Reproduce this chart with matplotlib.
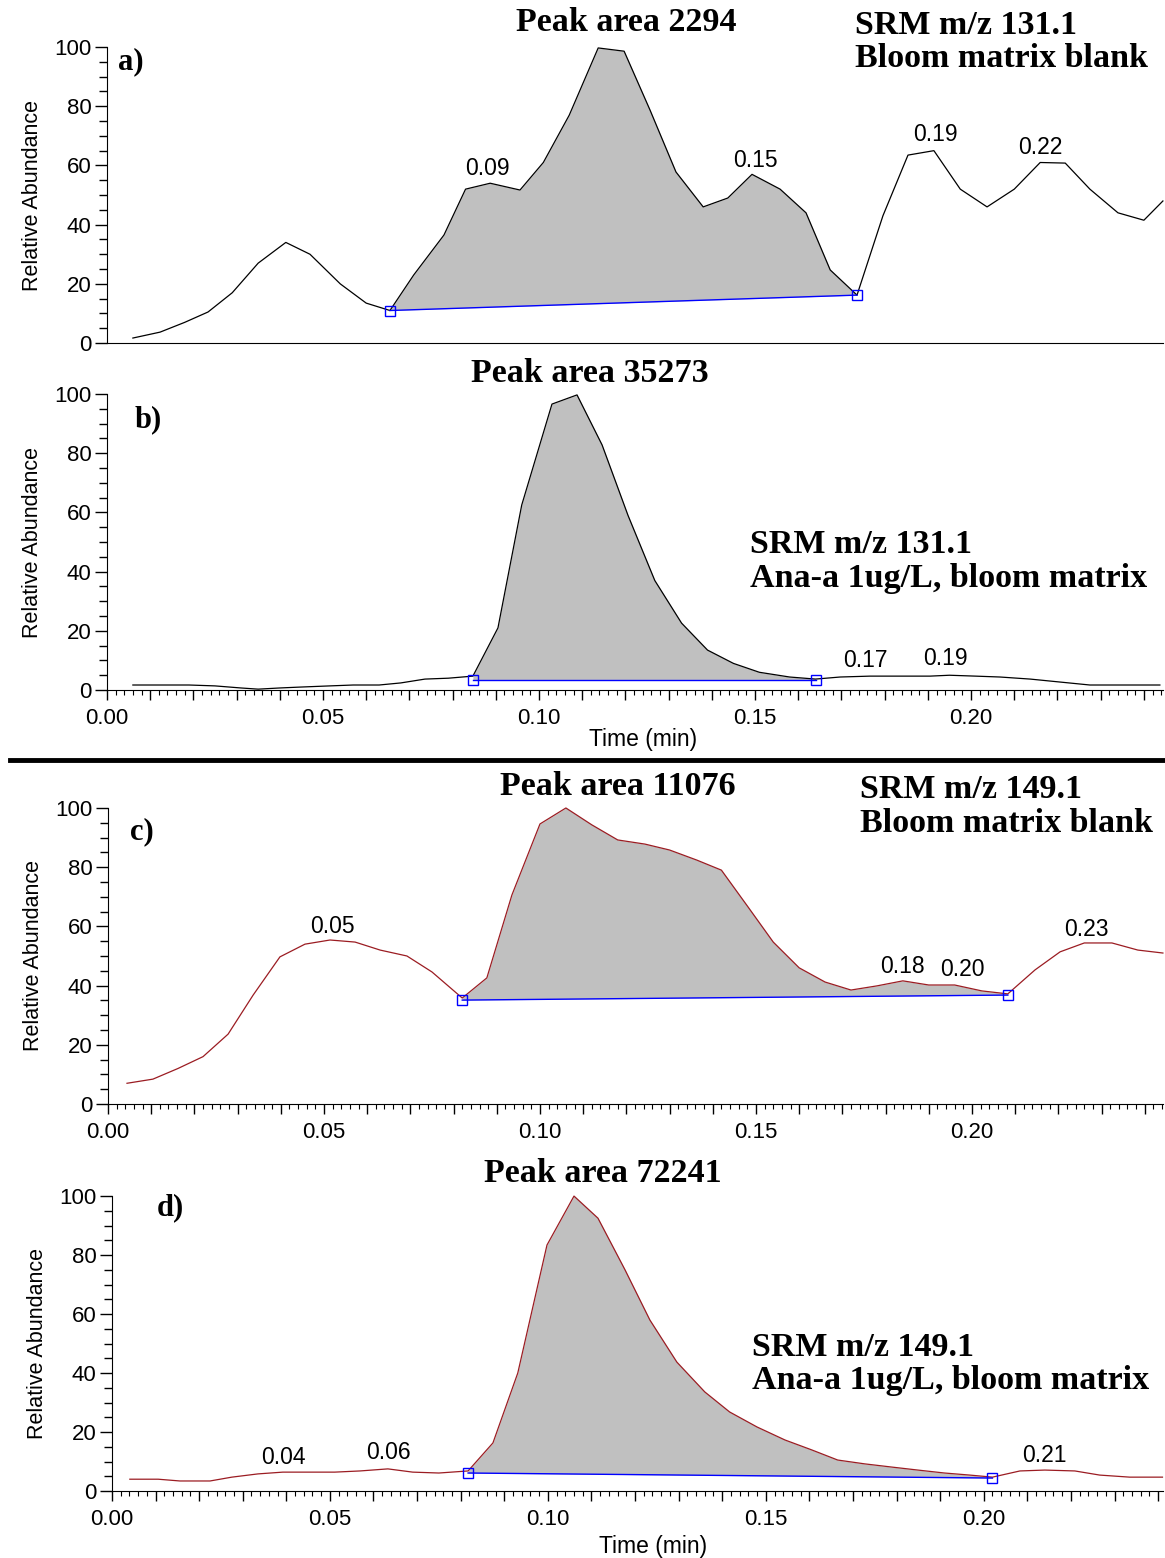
import numpy as np
import matplotlib
matplotlib.use("Agg")
import matplotlib.pyplot as plt
from matplotlib.lines import Line2D
from matplotlib.ticker import MultipleLocator, FuncFormatter

# ---- panel a : SRM 131.1 blank
a_t = [0.006, 0.0123, 0.018, 0.0234, 0.029, 0.035, 0.0414, 0.047, 0.054, 0.060, 0.0655,
       0.071, 0.078, 0.083, 0.0887, 0.0956, 0.101, 0.107, 0.1137, 0.1197, 0.1257, 0.1317,
       0.138, 0.1437, 0.1493, 0.1558, 0.1618, 0.1674, 0.1736, 0.1796, 0.1854, 0.1914,
       0.1975, 0.2037, 0.210, 0.216, 0.2218, 0.2275, 0.234, 0.240, 0.2444]
a_y = [1.7, 3.7, 7, 10.5, 17, 27, 34, 30, 20, 13.5, 11,
       23, 36.5, 52, 54, 51.7, 61, 77, 99.7, 98.6, 78.7, 57.8,
       46, 49, 57, 52, 44, 24.7, 16.2, 43, 63.5, 65,
       52, 46, 52, 61, 60.8, 52, 44, 41.5, 48]
a_base = [(0.0655, 11), (0.1736, 16.2)]
a_pk_t = [0.088, 0.150, 0.1917, 0.216]
a_pk_y = [59.1, 61.8, 70.3, 65.9]
a_pk_lbl = ["0.09", "0.15", "0.19", "0.22"]

# ---- panel b : SRM 131.1 Ana-a 1ug/L
b_t = [0.006, 0.0123, 0.019, 0.025, 0.031, 0.035, 0.040, 0.0447, 0.0516, 0.057, 0.063,
       0.068, 0.0736, 0.079, 0.0847, 0.0905, 0.096, 0.103, 0.1088, 0.1146, 0.1206, 0.1268,
       0.133, 0.139, 0.145, 0.151, 0.158, 0.164, 0.1697, 0.1766, 0.1836, 0.1905, 0.195,
       0.201, 0.2067, 0.2137, 0.2206, 0.2275, 0.237, 0.2437]
b_y = [1.7, 1.7, 1.7, 1.4, 0.7, 0.3, 0.7, 1.0, 1.4, 1.7, 1.7,
       2.4, 3.7, 4.0, 4.7, 21, 62.5, 96.6, 99.7, 82.8, 59, 37,
       22.6, 13.5, 9, 6, 4.4, 3.7, 4.4, 4.7, 4.7, 4.7, 5.0,
       4.7, 4.4, 3.7, 2.7, 1.7, 1.7, 1.7]
b_base = [(0.0847, 3.4), (0.164, 3.4)]
b_pk_t = [0.1755, 0.194]
b_pk_y = [10.1, 10.5]
b_pk_lbl = ["0.17", "0.19"]

# ---- panel c : SRM 149.1 blank
c_t = [0.0044, 0.0104, 0.0162, 0.022, 0.0278, 0.0336, 0.0398, 0.0456, 0.0514, 0.0572,
       0.063, 0.0692, 0.075, 0.082, 0.0877, 0.0935, 0.100, 0.106, 0.112, 0.118, 0.1243,
       0.130, 0.1363, 0.142, 0.148, 0.154, 0.160, 0.166, 0.172, 0.178, 0.184, 0.190,
       0.196, 0.2023, 0.2083, 0.2146, 0.2204, 0.226, 0.2324, 0.2384, 0.2442]
c_y = [7, 8.4, 12, 16, 23.6, 36.8, 49.7, 54, 55.4, 54.7,
       52, 50, 44.6, 35.8, 42.6, 70.6, 94.6, 100, 94.3, 89.2, 87.8,
       85.8, 82.4, 79, 66.9, 54.7, 46, 41.2, 38.5, 39.9, 41.6, 40.2,
       40.2, 38.2, 37.2, 45.3, 51.4, 54.4, 54.4, 52, 51]
c_base = [(0.082, 35.1), (0.2083, 36.8)]
c_pk_t = [0.0519, 0.184, 0.1977, 0.2264]
c_pk_y = [59.8, 46.6, 45.3, 59.1]
c_pk_lbl = ["0.05", "0.18", "0.20", "0.23"]

# ---- panel d : SRM 149.1 Ana-a 1ug/L
d_t = [0.0041, 0.0106, 0.0156, 0.0225, 0.0275, 0.0335, 0.0392, 0.0454, 0.0511, 0.0569,
       0.0633, 0.069, 0.075, 0.0817, 0.0874, 0.0931, 0.0998, 0.106, 0.1115, 0.1177, 0.1234,
       0.1296, 0.136, 0.1417, 0.148, 0.1544, 0.1606, 0.1665, 0.1727, 0.179, 0.1849, 0.191,
       0.1968, 0.202, 0.2083, 0.214, 0.2209, 0.2266, 0.2335, 0.241]
d_y = [4, 4, 3.4, 3.4, 4.7, 5.8, 6.4, 6.4, 6.4, 6.8,
       7.5, 6.4, 6.1, 6.8, 16.3, 40, 83.4, 100, 92.5, 75, 58,
       43.7, 33.6, 26.8, 21.7, 17.3, 13.9, 10.5, 9.2, 8.1, 7.1, 6.1,
       5.4, 4.7, 6.8, 7.1, 6.8, 5.4, 4.7, 4.7]
d_base = [(0.0817, 6.1), (0.202, 4.4)]
d_pk_t = [0.0394, 0.0635, 0.214]
d_pk_y = [11.5, 12.9, 11.9]
d_pk_lbl = ["0.04", "0.06", "0.21"]

titles = ["Peak area 2294", "Peak area 35273", "Peak area 11076", "Peak area 72241"]
srm = ["SRM m/z 131.1", "SRM m/z 131.1", "SRM m/z 149.1", "SRM m/z 149.1"]
samples = ["Bloom matrix blank", "Ana-a 1ug/L, bloom matrix",
           "Bloom matrix blank", "Ana-a 1ug/L, bloom matrix"]
letters = ["a)", "b)", "c)", "d)"]

SANS = "Liberation Sans"
SERIF = "Liberation Serif"

fig = plt.figure(figsize=(11.65, 15.58), dpi=100)

# [left, bottom, width, height] in figure fraction
boxes = [[0.0918, 0.7798, 0.9064, 0.1900],
         [0.0918, 0.5571, 0.9064, 0.1900],
         [0.0927, 0.2914, 0.9055, 0.1900],
         [0.0961, 0.0430, 0.9021, 0.1893]]
xmax = [0.2444, 0.2444, 0.2442, 0.2411]
# text positions (axes fraction): title, srm line1, srm line2, letter
title_xy = [(0.492, 1.084), (0.457, 1.071), (0.483, 1.074), (0.467, 1.078)]
srm_xy = [(0.708, 1.074, 0.963), (0.609, 0.493, 0.378), (0.713, 1.061, 0.946), (0.609, 0.488, 0.373)]
let_xy = [(0.0104, 0.949), (0.0265, 0.912), (0.021, 0.919), (0.043, 0.959)]

data = [(a_t, a_y, a_base, a_pk_t, a_pk_y, a_pk_lbl, "black"),
        (b_t, b_y, b_base, b_pk_t, b_pk_y, b_pk_lbl, "black"),
        (c_t, c_y, c_base, c_pk_t, c_pk_y, c_pk_lbl, "#9b1c22"),
        (d_t, d_y, d_base, d_pk_t, d_pk_y, d_pk_lbl, "#9b1c22")]

fmt = FuncFormatter(lambda v, p: "%.2f" % v if abs(v / 0.05 - round(v / 0.05)) < 1e-6 else "")

for i, (t, y, base, pt, py, pl, col) in enumerate(data):
    ax = fig.add_axes(boxes[i])
    t = np.array(t); y = np.array(y)
    (t0, y0), (t1, y1) = base
    m = (t >= t0 - 1e-9) & (t <= t1 + 1e-9)
    bl = np.interp(t[m], [t0, t1], [y0, y1])
    ax.fill_between(t[m], bl, y[m], color="#c0c0c0", lw=0)
    ax.plot(t, y, color=col, lw=0.9, clip_on=False)
    ax.plot([t0, t1], [y0, y1], color="#0000ff", lw=1.0, marker="s", ms=7,
            mfc="none", mec="#0000ff", mew=1.0)
    for xx, yy, s in zip(pt, py, pl):
        ax.text(xx, yy, s, ha="center", va="center", fontsize=16.5, family=SANS)

    ax.set_xlim(0, xmax[i])
    ax.set_ylim(0, 100)
    ax.spines["top"].set_visible(False)
    ax.spines["right"].set_visible(False)
    ax.yaxis.set_major_locator(MultipleLocator(20))
    ax.yaxis.set_minor_locator(MultipleLocator(5))
    ax.tick_params(axis="y", which="major", length=9, width=1, labelsize=16, pad=2)
    ax.tick_params(axis="y", which="minor", length=6, width=1)
    for lab in ax.get_yticklabels():
        lab.set_family(SANS)
    ax.set_ylabel("Relative Abundance", fontsize=15.5, family=SANS, labelpad=8)

    if i == 0:
        ax.tick_params(axis="x", which="both", bottom=False, labelbottom=False)
    else:
        ax.xaxis.set_major_locator(MultipleLocator(0.01))
        ax.xaxis.set_minor_locator(MultipleLocator(0.002))
        ax.xaxis.set_major_formatter(fmt)
        ax.tick_params(axis="x", which="major", length=7, width=1, labelsize=16, pad=6)
        ax.tick_params(axis="x", which="minor", length=3.5, width=0.8)
        for lab in ax.get_xticklabels():
            lab.set_family(SANS)
    if i == 1:
        ax.set_xlabel("Time (min)", fontsize=16.5, family=SANS)
        ax.xaxis.set_label_coords(0.508, -0.128)
    if i == 3:
        ax.set_xlabel("Time (min)", fontsize=16.5, family=SANS)
        ax.xaxis.set_label_coords(0.515, -0.148)

    ax.text(title_xy[i][0], title_xy[i][1], titles[i], transform=ax.transAxes,
            ha="center", va="center", fontsize=24.5, fontweight="bold", family=SERIF)
    sx, sy1, sy2 = srm_xy[i]
    ax.text(sx, sy1, srm[i], transform=ax.transAxes, ha="left", va="center",
            fontsize=24.5, fontweight="bold", family=SERIF)
    ax.text(sx, sy2, samples[i], transform=ax.transAxes, ha="left", va="center",
            fontsize=24.5, fontweight="bold", family=SERIF)
    ax.text(let_xy[i][0], let_xy[i][1], letters[i], transform=ax.transAxes,
            ha="left", va="center", fontsize=22, fontweight="bold", family=SERIF)

# thick separator between the two SRM channels
fig.add_artist(Line2D([10 / 1165, 1163 / 1165], [1 - 760 / 1558, 1 - 760 / 1558],
                      transform=fig.transFigure, color="black", lw=3.5))

fig.savefig("out.png", dpi=100)
